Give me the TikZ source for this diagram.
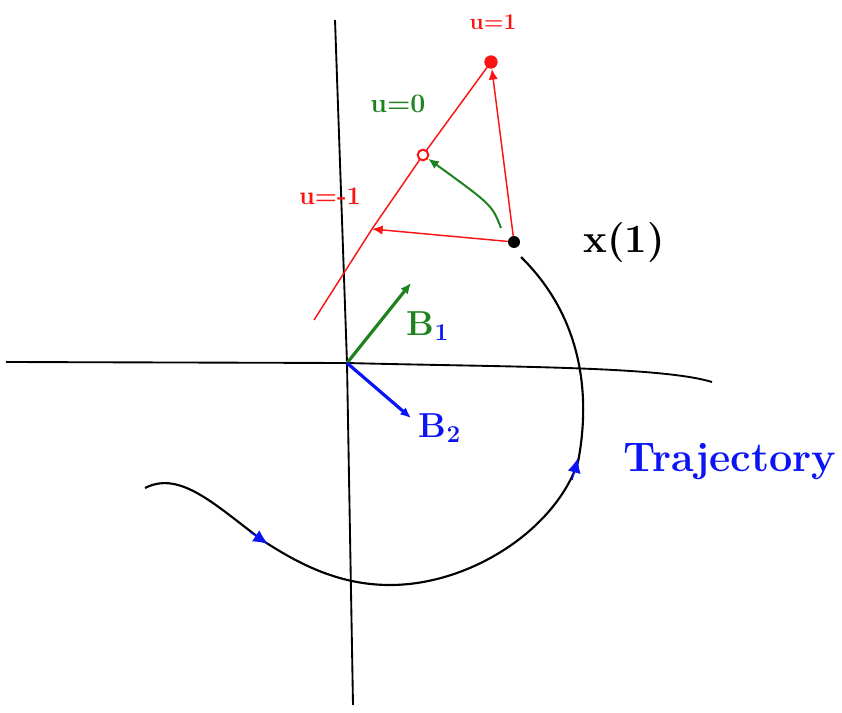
\documentclass[tikz,border=0pt]{standalone}
\usepackage{amsmath, amssymb}
\usepackage{tikz}
\usepackage{xcolor}
\usetikzlibrary{arrows.meta}
\definecolor{penred}{RGB}{250,20,20}
\definecolor{pengreen}{RGB}{30,130,30}
\definecolor{penblue}{RGB}{10,20,245}
\newcommand{\pensize}[1]{\fontsize{#1}{#1}\selectfont\bfseries}

\begin{document}
\begin{tikzpicture}[>={Latex[length=8pt,width=7pt]}, x=0.75pt, y=-0.75pt]
  % Ramme: 842 x 713 piksler, y nedover
  \useasboundingbox (0,0) rectangle (842,713);
  % Akser
  \coordinate (O) at (347,363);
  \coordinate (xl) at (6,362);
  \coordinate (xr) at (712,382);
  \coordinate (yt) at (335,20);
  \coordinate (yb) at (353,705);
  \draw[line width=1.4pt] (xl) -- (O) .. controls (500,367) and (660,366) .. (xr);
  \draw[line width=1.4pt] (yt) -- (O) -- (yb);
  % Basisvektorer B1 og B2
  \coordinate (b1) at (411,283);
  \coordinate (b2) at (411,418);
  \draw[->,pengreen,line width=2.4pt] (O) -- (b1);
  \draw[->,penblue,line width=2.4pt] (O) -- (b2);
  \node[font=\pensize{26}] (lb1) at (428,326) {\textcolor{pengreen}{B}\textcolor{penblue}{\textsubscript{1}}};
  \node[penblue,font=\pensize{26}] (lb2) at (440,428) {B\textsubscript{2}};
  % Punktet x(1)
  \node[circle,fill,inner sep=0pt,minimum size=9pt] (x1) at (514,242) {};
  \node[font=\pensize{30}] (lx1) at (624,243) {x(1)};
  % Linja for u i [-1,1]
  \coordinate (ua) at (314,320);
  \coordinate (um) at (372,229);
  \coordinate (uz) at (423,155);
  \coordinate (up) at (491,62);
  \draw[penred,line width=1.1pt] (ua) -- (um) -- (uz) -- (up);
  \node[penred,circle,draw,fill=white,line width=1.5pt,inner sep=0pt,minimum size=8pt] (u0) at (uz) {};
  \node[penred,circle,fill,inner sep=0pt,minimum size=10pt] (u1) at (up) {};
  \node[penred,font=\pensize{17}] (lu1) at (493,22) {u=1};
  \node[pengreen,font=\pensize{20}] (lu0) at (398,104) {u=0};
  \node[penred,font=\pensize{19}] (lum) at (330,196) {u=-1};
  % Hastigheter fra x(1)
  \draw[->,penred,line width=1.1pt] (x1) -- (um);
  \draw[->,penred,line width=1.1pt] (x1) -- (u1);
  \coordinate (gs) at (501,228);
  \draw[->,pengreen,line width=1.5pt] (gs) .. controls (492,205) .. (u0);
  % Trajektorie fram til x(1)
  \coordinate (t0) at (145,488);
  \coordinate (t1) at (262,540);
  \coordinate (t2) at (390,585);
  \coordinate (t3) at (578,462);
  \coordinate (t4) at (521,257);
  \draw[line width=1.6pt] (t0) .. controls (180,470) and (215,505) .. (t1)
    .. controls (300,565) and (340,585) .. (t2)
    .. controls (470,585) and (555,530) .. (t3)
    .. controls (590,400) and (585,320) .. (t4);
  \draw[penblue,line width=1pt,-{Latex[length=11pt,width=10pt]}] (250,532) -- (268,544);
  \draw[penblue,line width=1pt,-{Latex[length=11pt,width=10pt]}] (572,480) -- (578,458);
  \node[penblue,font=\pensize{31}] (ltr) at (730,462) {Trajectory};
\end{tikzpicture}
\end{document}
